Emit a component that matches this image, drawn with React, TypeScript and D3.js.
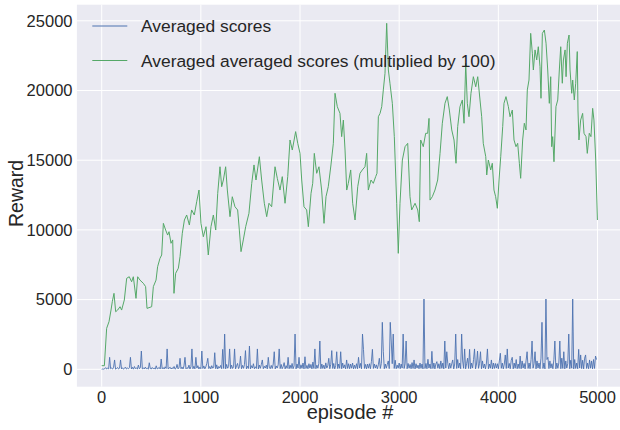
import React from 'react';
import * as d3 from 'd3';

const W = 620;
const H = 430;
// axes box (right edge runs a little past the picture, as in the original)
const plot = { left: 76.9, right: 622.3, top: 4.7, bottom: 386.7 };

const xTicks = [0, 1000, 2000, 3000, 4000, 5000];
const yTicks = [0, 5000, 10000, 15000, 20000, 25000];
const seriesNames = ['Averaged scores', 'Averaged averaged scores (multiplied by 100)'];
const seriesColors = ['#4c72b0', '#55a868'];

// averaged scores, one sample every 10 episodes (one row = 100 episodes)
const blueValues = [
  0, 20, 10, 40, 120, 20, 80, 30, 860, 40,
  90, 20, 150, 670, 10, 60, 130, 20, 80, 670,
  30, 110, 10, 70, 160, 20, 90, 40, 120, 860,
  20, 140, 10, 200, 50, 90, 20, 300, 40, 120,
  1310, 30, 100, 20, 160, 40, 80, 10, 470, 60,
  20, 130, 40, 90, 10, 250, 30, 70, 140, 20,
  740, 40, 120, 20, 180, 60, 1460, 30, 90, 150,
  20, 110, 40, 200, 10, 80, 350, 30, 140, 790,
  40, 160, 20, 250, 860, 30, 120, 60, 300, 20,
  180, 1460, 40, 220, 30, 860, 90, 260, 20, 150,
  40, 1310, 60, 240, 30, 180, 420, 790, 50, 200,
  30, 260, 80, 150, 1190, 40, 320, 20, 200, 90,
  280, 40, 1430, 60, 2530, 30, 350, 80, 200, 1460,
  40, 300, 60, 180, 1460, 30, 250, 420, 50, 200,
  950, 40, 280, 70, 350, 1340, 30, 220, 60, 1670,
  30, 260, 90, 400, 40, 180, 60, 1460, 30, 300,
  70, 350, 670, 40, 220, 90, 300, 30, 860, 150,
  40, 280, 60, 380, 1260, 30, 240, 90, 320, 1460,
  50, 350, 40, 200, 480, 30, 260, 70, 860, 40,
  300, 60, 420, 40, 250, 2530, 30, 380, 90, 860,
  40, 320, 70, 450, 30, 900, 60, 280, 40, 400,
  90, 350, 30, 520, 60, 1460, 40, 300, 80, 420,
  2030, 40, 380, 60, 300, 30, 460, 90, 250, 790,
  40, 350, 1340, 60, 420, 30, 280, 1260, 50, 380,
  70, 1260, 40, 450, 90, 320, 30, 670, 60, 400,
  40, 380, 80, 450, 30, 300, 60, 400, 40, 860,
  90, 420, 40, 2530, 1430, 60, 350, 30, 380, 80,
  400, 40, 550, 1430, 60, 380, 90, 320, 40, 320,
  790, 60, 420, 3370, 1260, 40, 380, 80, 350, 600,
  50, 3370, 2030, 400, 2530, 60, 650, 40, 300, 80,
  450, 40, 380, 90, 2530, 60, 400, 2030, 40, 420,
  80, 350, 40, 480, 60, 670, 30, 400, 90, 300,
  40, 450, 70, 380, 30, 5040, 60, 420, 40, 720,
  90, 380, 40, 1290, 60, 450, 30, 380, 550, 80,
  400, 40, 600, 70, 450, 30, 2030, 90, 1260, 420,
  40, 450, 80, 400, 670, 30, 380, 2530, 60, 700,
  90, 450, 40, 2530, 600, 70, 1460, 30, 420, 800,
  60, 1430, 40, 450, 90, 700, 1460, 30, 380, 1310,
  70, 420, 1260, 40, 600, 90, 380, 30, 450, 1460,
  40, 380, 80, 670, 30, 450, 60, 420, 90, 400,
  40, 600, 1150, 70, 450, 30, 380, 1030, 60, 1460,
  90, 420, 40, 650, 860, 30, 450, 80, 700, 40,
  380, 60, 950, 40, 600, 90, 420, 30, 650, 1260,
  60, 450, 40, 700, 2030, 80, 400, 1260, 30, 600,
  90, 450, 40, 800, 3370, 60, 450, 30, 5040, 700,
  860, 50, 600, 90, 400, 40, 700, 2030, 30, 450,
  70, 450, 2030, 40, 800, 60, 1260, 30, 600, 90,
  400, 2530, 40, 650, 80, 5040, 30, 700, 60, 450,
  40, 1430, 90, 1030, 50, 650, 30, 800, 1030, 60,
  450, 40, 670, 80, 600, 30, 700, 60, 950, 700,
];

const greenEpisodes = [
  0, 27, 50, 74, 94, 107, 124, 141, 161, 185, 201, 228, 252, 278, 302, 319, 346, 363, 386, 420,
  443, 457, 504, 521, 548, 564, 588, 605, 622, 645, 665, 679, 699, 716, 729, 746, 773, 790, 813, 834,
  857, 884, 907, 934, 958, 981, 1001, 1025, 1052, 1075, 1102, 1126, 1150, 1170, 1193, 1210, 1227, 1250, 1267, 1294,
  1317, 1344, 1371, 1388, 1405, 1428, 1452, 1485, 1513, 1536, 1556, 1590, 1613, 1640, 1664, 1687, 1714, 1748, 1771, 1798,
  1821, 1849, 1876, 1899, 1922, 1956, 1977, 2000, 2017, 2040, 2067, 2084, 2111, 2128, 2144, 2168, 2191, 2218, 2242, 2262,
  2285, 2312, 2336, 2353, 2376, 2403, 2420, 2437, 2454, 2471, 2487, 2511, 2531, 2555, 2582, 2605, 2628, 2655, 2672, 2689,
  2716, 2739, 2763, 2776, 2790, 2807, 2824, 2840, 2857, 2874, 2891, 2907, 2931, 2951, 2975, 2991, 3008, 3032, 3059, 3086,
  3109, 3126, 3160, 3187, 3203, 3217, 3243, 3267, 3287, 3301, 3311, 3334, 3361, 3388, 3412, 3435, 3462, 3485, 3506, 3530,
  3553, 3573, 3590, 3613, 3637, 3654, 3671, 3687, 3704, 3724, 3748, 3772, 3792, 3815, 3832, 3848, 3873, 3883, 3899, 3923,
  3939, 3956, 3973, 3990, 4007, 4024, 4044, 4057, 4077, 4101, 4118, 4141, 4158, 4178, 4195, 4212, 4225, 4245, 4262, 4279,
  4292, 4309, 4326, 4343, 4353, 4370, 4387, 4403, 4420, 4430, 4444, 4464, 4481, 4498, 4514, 4528, 4538, 4548, 4561, 4581,
  4599, 4615, 4629, 4645, 4656, 4673, 4683, 4696, 4713, 4723, 4740, 4750, 4766, 4780, 4796, 4803, 4813, 4830, 4850, 4864,
  4884, 4897, 4917, 4934, 4951, 4964, 4982, 4999,
];

const greenValues = [
  260, 260, 2940, 3420, 4250, 4850, 5450, 4130, 4250, 4490, 4250, 4970, 6530, 6640, 6280, 6640, 5090, 6640, 6400, 6170,
  5930, 4370, 4490, 5930, 6400, 7360, 7960, 8200, 10470, 9990, 9630, 9870, 9040, 9280, 5450, 6890, 7250, 8080, 9760, 10710,
  11070, 10350, 11430, 11070, 12020, 12860, 10470, 9510, 10230, 8200, 10230, 11070, 9990, 12620, 14530, 13100, 13580, 14530, 12860, 10950,
  12380, 11660, 11430, 9990, 8440, 9280, 10230, 11190, 13340, 14660, 13580, 15250, 13580, 11910, 10950, 11910, 11660, 14530, 13700, 12860,
  13820, 11910, 13820, 16450, 15730, 17050, 16210, 15490, 13580, 11660, 11430, 10230, 12620, 13340, 15490, 14060, 14530, 12860, 10470, 12380,
  13100, 14660, 16210, 19800, 18840, 18360, 16690, 17880, 15730, 12860, 13340, 14300, 11910, 10710, 13100, 14060, 14300, 14530, 15490, 12860,
  13580, 13340, 13820, 14060, 18120, 18360, 18840, 20040, 21230, 24820, 21470, 20520, 19080, 16690, 11910, 8320, 11910, 15010, 15970, 16210,
  12380, 11430, 11910, 11430, 10590, 16450, 15970, 16930, 16930, 18000, 12140, 12380, 12860, 13580, 15490, 17650, 19080, 19560, 18600, 17170,
  16450, 14780, 17410, 18840, 19320, 17650, 21950, 19080, 18120, 19800, 20990, 20270, 20990, 19320, 18120, 16210, 15250, 13940, 15010, 14300,
  14780, 12860, 12380, 11550, 13580, 15250, 17410, 19080, 19560, 18840, 18120, 18600, 16450, 15970, 16210, 14780, 13700, 16450, 17650, 17170,
  20040, 20750, 24100, 22670, 21470, 22910, 22190, 23140, 21710, 19440, 24100, 24340, 23390, 21470, 19080, 20990, 15970, 16690, 14890, 18840,
  19320, 21470, 23140, 20520, 22190, 22910, 20990, 23390, 23980, 21470, 19800, 20750, 19320, 20520, 22790, 18600, 16450, 17880, 18360, 16930,
  16690, 15490, 16930, 16690, 18720, 17880, 15010, 10710,
];

const font = '"Liberation Sans", Arial, sans-serif';
const ink = '#262626';

export default function App() {
  const x = d3.scaleLinear().domain([-250, 5250]).range([plot.left, plot.right]);
  const y = d3.scaleLinear().domain([-1248, 26155]).range([plot.bottom, plot.top]);

  const blue = blueValues.map((v, i) => [i * 10, v] as [number, number]);
  const green = greenEpisodes.map((e, i) => [e, greenValues[i]] as [number, number]);

  const line = d3.line<[number, number]>().x(d => x(d[0])).y(d => y(d[1]));

  return (
    <svg width={W} height={H} style={{ position: 'absolute', left: 0, top: 0, background: '#fff' }}>
      <defs>
        <clipPath id="plotclip">
          <rect x={plot.left} y={plot.top} width={plot.right - plot.left} height={plot.bottom - plot.top} />
        </clipPath>
      </defs>
      <rect x={plot.left} y={plot.top} width={plot.right - plot.left} height={plot.bottom - plot.top} fill="#eaeaf2" />
      {xTicks.map(t => (
        <line key={'gx' + t} x1={x(t)} x2={x(t)} y1={plot.top} y2={plot.bottom} stroke="#fff" strokeWidth={1} />
      ))}
      {yTicks.map(t => (
        <line key={'gy' + t} x1={plot.left} x2={plot.right} y1={y(t)} y2={y(t)} stroke="#fff" strokeWidth={1} />
      ))}
      <g clipPath="url(#plotclip)">
        <path d={line(blue) ?? ''} fill="none" stroke={seriesColors[0]} strokeWidth={0.9} strokeLinejoin="miter" />
        <path d={line(green) ?? ''} fill="none" stroke={seriesColors[1]} strokeWidth={1} strokeLinejoin="round" />
      </g>
      {xTicks.map(t => (
        <text key={'tx' + t} x={x(t)} y={402.5} textAnchor="middle" fontFamily={font} fontSize={16.5} fill={ink}>
          {t}
        </text>
      ))}
      {yTicks.map(t => (
        <text key={'ty' + t} x={72.5} y={y(t)} dy="0.35em" textAnchor="end" fontFamily={font} fontSize={16.5} fill={ink}>
          {t}
        </text>
      ))}
      <text x={350} y={418.5} textAnchor="middle" fontFamily={font} fontSize={20} fill={ink}>
        episode #
      </text>
      <text transform="translate(22.7,193.4) rotate(-90)" textAnchor="middle" fontFamily={font} fontSize={19.5} fill={ink}>
        Reward
      </text>
      {seriesNames.map((name, i) => (
        <g key={name} transform={`translate(0,${26 + i * 34.5})`}>
          <line x1={92.3} x2={127.3} y1={0} y2={0} stroke={seriesColors[i]} strokeWidth={1} />
          <text x={141} y={0} dy="0.35em" fontFamily={font} fontSize={17.4} fill={ink}>
            {name}
          </text>
        </g>
      ))}
    </svg>
  );
}
